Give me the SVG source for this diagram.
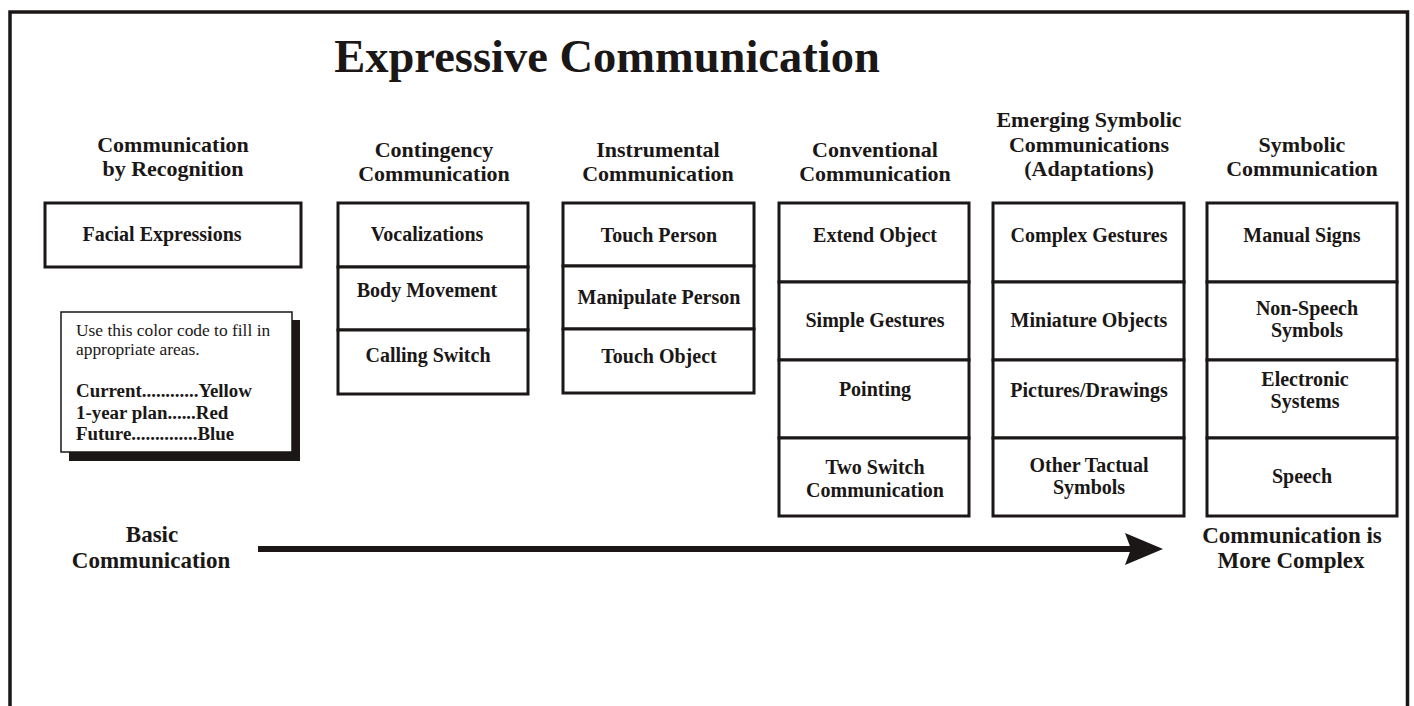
<svg xmlns="http://www.w3.org/2000/svg" width="1414" height="706" viewBox="0 0 1414 706">
<style>
text{font-family:"Liberation Serif","Times New Roman",serif;fill:#1a1716;font-weight:bold;text-anchor:middle}
.hd{font-size:22px}
.lb{font-size:20px}
.bt{font-size:23px}
.cell{fill:#fff;stroke:#1a1716;stroke-width:3}
.lg{text-anchor:start;font-size:17.4px;font-weight:normal}
.lgb{text-anchor:start;font-size:18.9px}
</style>
<defs>
<marker id="ah" viewBox="0 0 40 32" markerWidth="40" markerHeight="32" refX="6" refY="16" orient="auto" markerUnits="userSpaceOnUse">
<path d="M0,0 L38,16 L0,32 L6,16 Z" fill="#1a1716"/>
</marker>
</defs>
<rect width="1414" height="706" fill="#fff"/>
<path d="M10,712 V12 H1407.5 V712" fill="none" stroke="#1a1716" stroke-width="3.5"/>
<text x="607" y="72" font-size="46.5">Expressive Communication</text>

<g id="recognition">
<text class="hd" x="173" y="152">Communication</text>
<text class="hd" x="173" y="176">by Recognition</text>
<rect class="cell" x="45" y="203" width="256" height="64"/>
<text class="lb" x="162" y="241">Facial Expressions</text>
</g>

<g id="contingency">
<text class="hd" x="434" y="157">Contingency</text>
<text class="hd" x="434" y="181">Communication</text>
<rect class="cell" x="338" y="203" width="190" height="64"/>
<rect class="cell" x="338" y="267" width="190" height="63"/>
<rect class="cell" x="338" y="330" width="190" height="64"/>
<text class="lb" x="427" y="241">Vocalizations</text>
<text class="lb" x="427" y="297">Body Movement</text>
<text class="lb" x="428" y="362">Calling Switch</text>
</g>

<g id="instrumental">
<text class="hd" x="658" y="157">Instrumental</text>
<text class="hd" x="658" y="181">Communication</text>
<rect class="cell" x="563" y="203" width="191" height="63"/>
<rect class="cell" x="563" y="266" width="191" height="63"/>
<rect class="cell" x="563" y="329" width="191" height="64"/>
<text class="lb" x="659" y="242">Touch Person</text>
<text class="lb" x="659" y="304">Manipulate Person</text>
<text class="lb" x="659" y="363">Touch Object</text>
</g>

<g id="conventional">
<text class="hd" x="875" y="157">Conventional</text>
<text class="hd" x="875" y="181">Communication</text>
<rect class="cell" x="779" y="203" width="190" height="79"/>
<rect class="cell" x="779" y="282" width="190" height="78"/>
<rect class="cell" x="779" y="360" width="190" height="78"/>
<rect class="cell" x="779" y="438" width="190" height="78"/>
<text class="lb" x="875" y="242">Extend Object</text>
<text class="lb" x="875" y="327">Simple Gestures</text>
<text class="lb" x="875" y="396">Pointing</text>
<text class="lb" x="875" y="474">Two Switch</text>
<text class="lb" x="875" y="497">Communication</text>
</g>

<g id="emerging">
<text class="hd" x="1089" y="127">Emerging Symbolic</text>
<text class="hd" x="1089" y="152">Communications</text>
<text class="hd" x="1089" y="176">(Adaptations)</text>
<rect class="cell" x="993" y="203" width="191" height="79"/>
<rect class="cell" x="993" y="282" width="191" height="78"/>
<rect class="cell" x="993" y="360" width="191" height="78"/>
<rect class="cell" x="993" y="438" width="191" height="78"/>
<text class="lb" x="1089" y="242">Complex Gestures</text>
<text class="lb" x="1089" y="327">Miniature Objects</text>
<text class="lb" x="1089" y="397">Pictures/Drawings</text>
<text class="lb" x="1089" y="472">Other Tactual</text>
<text class="lb" x="1089" y="494">Symbols</text>
</g>

<g id="symbolic">
<text class="hd" x="1302" y="152">Symbolic</text>
<text class="hd" x="1302" y="176">Communication</text>
<rect class="cell" x="1207" y="203" width="190" height="79"/>
<rect class="cell" x="1207" y="282" width="190" height="78"/>
<rect class="cell" x="1207" y="360" width="190" height="78"/>
<rect class="cell" x="1207" y="438" width="190" height="78"/>
<text class="lb" x="1302" y="242">Manual Signs</text>
<text class="lb" x="1307" y="315">Non-Speech</text>
<text class="lb" x="1307" y="337">Symbols</text>
<text class="lb" x="1305" y="386">Electronic</text>
<text class="lb" x="1305" y="408">Systems</text>
<text class="lb" x="1302" y="483">Speech</text>
</g>

<g id="legend">
<rect x="69" y="320" width="231" height="141" fill="#1a1716"/>
<rect x="61" y="312" width="231" height="140" fill="#fff" stroke="#1a1716" stroke-width="1.5"/>
<text class="lg" x="76" y="336">Use this color code to fill in</text>
<text class="lg" x="76" y="355">appropriate areas.</text>
<text class="lgb" x="76" y="397">Current............Yellow</text>
<text class="lgb" x="76" y="419">1-year plan......Red</text>
<text class="lgb" x="76" y="440">Future..............Blue</text>
</g>

<g id="connectors">
<line x1="258" y1="549" x2="1131" y2="549" stroke="#1a1716" stroke-width="6" marker-end="url(#ah)"/>
</g>

<g id="basic">
<text class="bt" x="152" y="542">Basic</text>
<text class="bt" x="151" y="568">Communication</text>
</g>
<g id="complex">
<text class="bt" x="1292" y="543">Communication is</text>
<text class="bt" x="1291" y="568">More Complex</text>
</g>
</svg>
